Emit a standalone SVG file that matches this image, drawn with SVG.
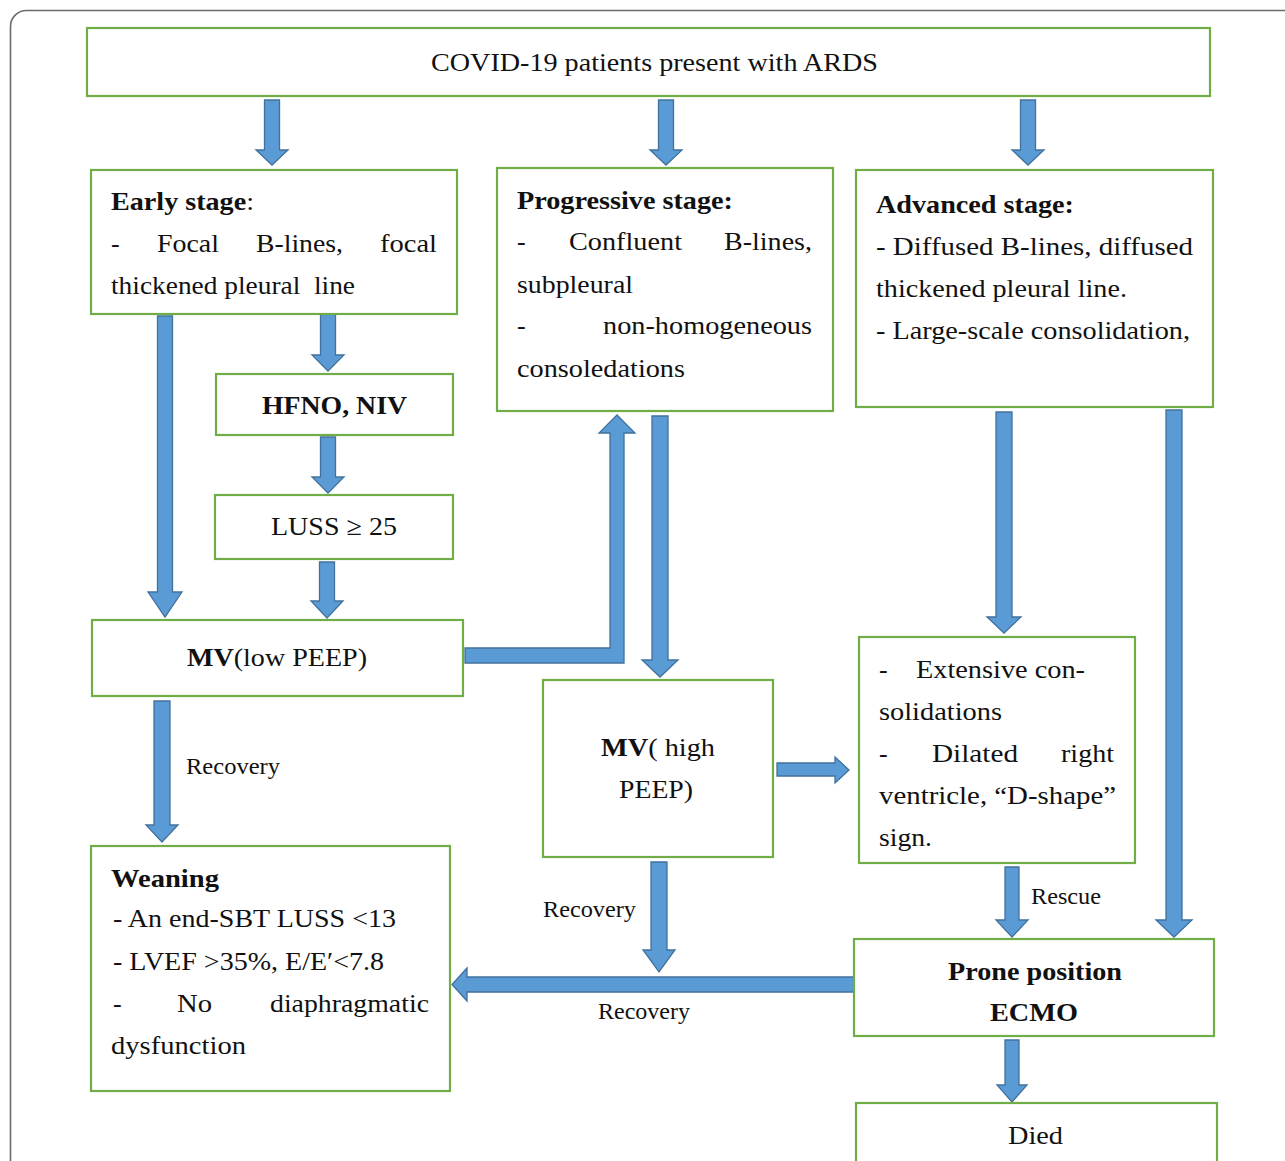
<svg xmlns="http://www.w3.org/2000/svg" width="1285" height="1161" viewBox="0 0 1285 1161">
<style>
.box{fill:#fff;stroke:#70ad47;stroke-width:2.2}
.arr{fill:#5b9bd5;stroke:#41719c;stroke-width:1.3;stroke-linejoin:miter}
text{font-family:"Liberation Serif","Times New Roman",serif;font-size:26px;fill:#111}
.b{font-weight:bold}
.lbl{font-size:24px}
</style>
<rect x="0" y="0" width="1285" height="1161" fill="#fff"/>
<rect x="10.5" y="10.5" width="1320" height="1220" rx="16" fill="none" stroke="#6b6b6b" stroke-width="1.6"/>

<g id="connectors">
<path class="arr" d="M264.5,100 H279.5 V150 H288 L272,165 L256,150 H264.5 Z"/>
<path class="arr" d="M658.5,100 H673.5 V150 H682 L666,165 L650,150 H658.5 Z"/>
<path class="arr" d="M1020.5,100 H1035.5 V150 H1044 L1028,165 L1012,150 H1020.5 Z"/>
<path class="arr" d="M157.5,316 H172.5 V592 H182 L165,617 L148,592 H157.5 Z"/>
<path class="arr" d="M320.5,314 H335.5 V355 H344 L328,371 L312,355 H320.5 Z"/>
<path class="arr" d="M320.5,437 H335.5 V477 H344 L328,493 L312,477 H320.5 Z"/>
<path class="arr" d="M319.5,562 H334.5 V601 H343 L327,618 L311,601 H319.5 Z"/>
<path class="arr" d="M465,648 H610 V433 H599 L617,415 L635,433 H624 V663 H465 Z"/>
<path class="arr" d="M652,416 H668 V660 H678 L660,677 L642,660 H652 Z"/>
<path class="arr" d="M154,701 H170 V825 H178 L162,842 L146,825 H154 Z"/>
<path class="arr" d="M651,862 H667 V950 H675 L659,972 L643,950 H651 Z"/>
<path class="arr" d="M854,977 H467 V968 L452,984.5 L467,1001 V992 H854 Z"/>
<path class="arr" d="M777,763 H835 V757 L849,770 L835,783 V776 H777 Z"/>
<path class="arr" d="M996,412 H1012 V617 H1021 L1004,633 L987,617 H996 Z"/>
<path class="arr" d="M1166,410 H1182 V920 H1192 L1174,937 L1156,920 H1166 Z"/>
<path class="arr" d="M1005,867 H1019 V920 H1028 L1012,937 L996,920 H1005 Z"/>
<path class="arr" d="M1005,1040 H1019 V1085 H1027 L1012,1102 L997,1085 H1005 Z"/>
<text class="lbl" x="186" y="774" textLength="94" lengthAdjust="spacingAndGlyphs">Recovery</text>
<text class="lbl" x="543" y="917" textLength="93" lengthAdjust="spacingAndGlyphs">Recovery</text>
<text class="lbl" x="598" y="1019" textLength="92" lengthAdjust="spacingAndGlyphs">Recovery</text>
<text class="lbl" x="1031" y="904" textLength="70" lengthAdjust="spacingAndGlyphs">Rescue</text>
</g>

<g id="covid">
<rect class="box" x="87" y="28" width="1123" height="68"/>
<text x="431" y="71" textLength="447" lengthAdjust="spacingAndGlyphs">COVID-19 patients present with ARDS</text>
</g>

<g id="early">
<rect class="box" x="91" y="170" width="366" height="144"/>
<text x="111" y="210" textLength="143" lengthAdjust="spacingAndGlyphs"><tspan class="b">Early stage</tspan>:</text>
<text x="111" y="252">-</text>
<text x="157" y="252" textLength="62" lengthAdjust="spacingAndGlyphs">Focal</text>
<text x="256" y="252" textLength="87" lengthAdjust="spacingAndGlyphs">B-lines,</text>
<text x="380" y="252" textLength="57" lengthAdjust="spacingAndGlyphs">focal</text>
<text x="111" y="294" textLength="244" lengthAdjust="spacingAndGlyphs" xml:space="preserve">thickened pleural  line</text>
</g>

<g id="progressive">
<rect class="box" x="497" y="168" width="336" height="243"/>
<text class="b" x="517" y="209" textLength="216" lengthAdjust="spacingAndGlyphs">Progressive stage:</text>
<text x="517" y="250">-</text>
<text x="569" y="250" textLength="113" lengthAdjust="spacingAndGlyphs">Confluent</text>
<text x="724" y="250" textLength="88" lengthAdjust="spacingAndGlyphs">B-lines,</text>
<text x="517" y="293" textLength="116" lengthAdjust="spacingAndGlyphs">subpleural</text>
<text x="517" y="334">-</text>
<text x="603" y="334" textLength="209" lengthAdjust="spacingAndGlyphs">non-homogeneous</text>
<text x="517" y="377" textLength="168" lengthAdjust="spacingAndGlyphs">consoledations</text>
</g>

<g id="advanced">
<rect class="box" x="856" y="170" width="357" height="237"/>
<text class="b" x="876" y="213" textLength="198" lengthAdjust="spacingAndGlyphs">Advanced stage:</text>
<text x="876" y="255" textLength="317" lengthAdjust="spacingAndGlyphs">- Diffused B-lines, diffused</text>
<text x="876" y="297" textLength="251" lengthAdjust="spacingAndGlyphs">thickened pleural line.</text>
<text x="876" y="339" textLength="314" lengthAdjust="spacingAndGlyphs">- Large-scale consolidation,</text>
</g>

<g id="hfno">
<rect class="box" x="216" y="374" width="237" height="61"/>
<text class="b" x="262" y="414" textLength="145" lengthAdjust="spacingAndGlyphs">HFNO, NIV</text>
</g>

<g id="luss">
<rect class="box" x="215" y="495" width="238" height="64"/>
<text x="271" y="535" textLength="126" lengthAdjust="spacingAndGlyphs">LUSS ≥ 25</text>
</g>

<g id="mvlow">
<rect class="box" x="92" y="620" width="371" height="76"/>
<text x="187" y="666" textLength="180" lengthAdjust="spacingAndGlyphs"><tspan class="b">MV</tspan>(low PEEP)</text>
</g>

<g id="mvhigh">
<rect class="box" x="543" y="680" width="230" height="177"/>
<text x="601" y="756" textLength="114" lengthAdjust="spacingAndGlyphs"><tspan class="b">MV</tspan>( high</text>
<text x="619" y="798" textLength="74" lengthAdjust="spacingAndGlyphs">PEEP)</text>
</g>

<g id="extensive">
<rect class="box" x="859" y="637" width="276" height="226"/>
<text x="879" y="678">-</text>
<text x="916" y="678" textLength="169" lengthAdjust="spacingAndGlyphs">Extensive con-</text>
<text x="879" y="720" textLength="123" lengthAdjust="spacingAndGlyphs">solidations</text>
<text x="879" y="762">-</text>
<text x="932" y="762" textLength="86" lengthAdjust="spacingAndGlyphs">Dilated</text>
<text x="1061" y="762" textLength="53" lengthAdjust="spacingAndGlyphs">right</text>
<text x="879" y="804" textLength="237" lengthAdjust="spacingAndGlyphs">ventricle, “D-shape”</text>
<text x="879" y="846" textLength="53" lengthAdjust="spacingAndGlyphs">sign.</text>
</g>

<g id="weaning">
<rect class="box" x="91" y="846" width="359" height="245"/>
<text class="b" x="111" y="887" textLength="108" lengthAdjust="spacingAndGlyphs">Weaning</text>
<text x="113" y="927" textLength="283" lengthAdjust="spacingAndGlyphs">- An end-SBT LUSS &lt;13</text>
<text x="113" y="970" textLength="271" lengthAdjust="spacingAndGlyphs">- LVEF &gt;35%, E/E′&lt;7.8</text>
<text x="113" y="1012">-</text>
<text x="177" y="1012" textLength="35" lengthAdjust="spacingAndGlyphs">No</text>
<text x="270" y="1012" textLength="159" lengthAdjust="spacingAndGlyphs">diaphragmatic</text>
<text x="111" y="1054" textLength="135" lengthAdjust="spacingAndGlyphs">dysfunction</text>
</g>

<g id="prone">
<rect class="box" x="854" y="939" width="360" height="97"/>
<text class="b" x="948" y="980" textLength="174" lengthAdjust="spacingAndGlyphs">Prone position</text>
<text class="b" x="990" y="1021" textLength="88" lengthAdjust="spacingAndGlyphs">ECMO</text>
</g>

<g id="died">
<rect class="box" x="856" y="1103" width="361" height="80"/>
<text x="1008" y="1144" textLength="55" lengthAdjust="spacingAndGlyphs">Died</text>
</g>
</svg>
